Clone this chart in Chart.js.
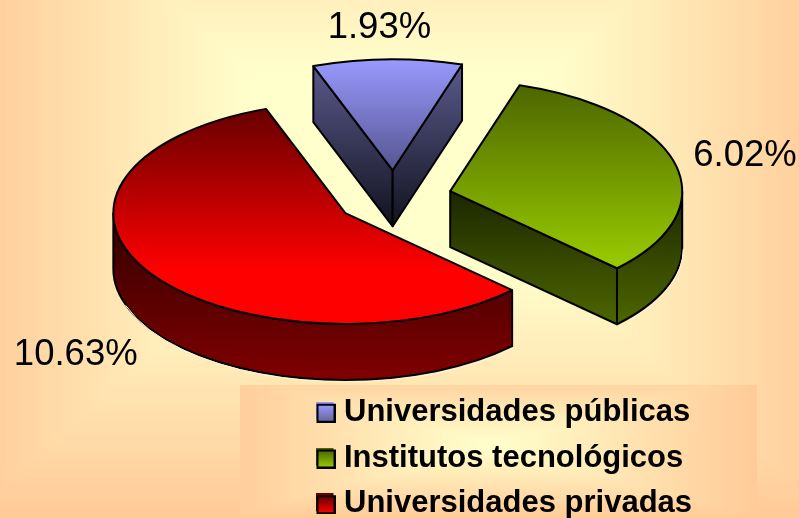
<!DOCTYPE html>
<html>
<head>
<meta charset="utf-8">
<script src="https://cdn.jsdelivr.net/npm/chart.js@4"></script>
<style>
html, body { margin: 0; padding: 0; background: #ffcc99; overflow: hidden; }
canvas { display: block; }
</style>
</head>
<body>
<canvas id="grafica" width="799" height="518"></canvas>
<script>
// datos
var categorias = ["Universidades públicas", "Institutos tecnológicos", "Universidades privadas"];
var valores = [1.93, 6.02, 10.63];

// colores de cada porcion: tapa arriba, tapa abajo, pared arriba, pared abajo
var tapaArriba = ["#9999ff", "#4d6600", "#660000"];
var tapaAbajo = ["#555590", "#99cc00", "#ff0000"];
var paredArriba = ["#5c5c90", "#1c2600", "#300000"];
var paredAbajo = ["#12121f", "#4d6600", "#800000"];

var inclinacion = 0.478; // aplasta el circulo en y
var grosor = 56; // alto de las paredes
var separacion = 58; // cuanto se aleja cada porcion del centro
// corrimiento de cada etiqueta desde el borde de su porcion
var corrimientoEtiqueta = [[-8, -31], [70, -8], [-75, 81]];

// degradado rectangular: rectangulos anidados de naranja a amarillo claro
function fondoRect(ctx, x, y, w, h, cx, cy, rx, ry, px, py) {
    ctx.save();
    ctx.beginPath();
    ctx.rect(x, y, w, h);
    ctx.clip();
    var pasos = 80;
    for (var i = 0; i <= pasos; i++) {
        var t = i / pasos;
        var hw = rx + (px - rx) * t;
        var hh = ry + (py - ry) * t;
        var b = Math.round(153 + 51 * t);
        var g = Math.round(204 + 51 * t);
        ctx.fillStyle = "rgb(255," + g + "," + b + ")";
        if (i == 0) ctx.fillRect(x, y, w, h);
        else ctx.fillRect(cx - hw, cy - hh, hw * 2, hh * 2);
    }
    ctx.restore();
}

function degradado(ctx, y0, y1, c0, c1) {
    var g = ctx.createLinearGradient(0, y0, 0, y1);
    g.addColorStop(0, c0);
    g.addColorStop(1, c1);
    return g;
}

// cuadrito de la leyenda como imagen para usarlo de pointStyle
function cuadrito(i) {
    var c = document.createElement("canvas");
    c.width = 20;
    c.height = 21;
    var x = c.getContext("2d");
    x.fillStyle = tapaArriba[i];
    x.fillRect(0, 0, 18, 18);
    x.fillStyle = degradado(x, 3, 20, tapaArriba[i], tapaAbajo[i] == "#555590" ? "#666699" : tapaAbajo[i]);
    x.fillRect(2, 3, 17, 17);
    x.strokeStyle = "#000";
    x.lineWidth = 2;
    x.strokeRect(2, 3, 17, 17);
    return c;
}

function borde(arc) {
    var medio = (arc.startAngle + arc.endAngle) / 2;
    return {
        ox: arc.x + Math.cos(medio) * separacion,
        oy: arc.y + Math.sin(medio) * separacion * inclinacion,
        r: arc.outerRadius,
        ry: arc.outerRadius * inclinacion,
        medio: medio
    };
}

function pintarCorte(ctx, b, angulo, relleno) {
    var x = b.ox + b.r * Math.cos(angulo);
    var y = b.oy + b.ry * Math.sin(angulo);
    ctx.beginPath();
    ctx.moveTo(b.ox, b.oy);
    ctx.lineTo(x, y);
    ctx.lineTo(x, y + grosor);
    ctx.lineTo(b.ox, b.oy + grosor);
    ctx.closePath();
    ctx.fillStyle = relleno;
    ctx.fill();
    ctx.stroke();
}

function pintarPorcion(ctx, arc, i) {
    var b = borde(arc);
    var ini = arc.startAngle, fin = arc.endAngle;
    ctx.save();
    ctx.lineJoin = "round";
    ctx.lineWidth = 2;
    ctx.strokeStyle = "#000";

    // alto total de la porcion para los degradados
    var senos = [0, Math.sin(ini), Math.sin(fin)];
    if (ini < Math.PI / 2 && fin > Math.PI / 2) senos.push(1);
    if (ini < -Math.PI / 2 && fin > -Math.PI / 2) senos.push(-1);
    var minSeno = Math.min.apply(null, senos);
    var maxSeno = Math.max.apply(null, senos);
    // si la porcion llega abajo del centro las paredes empiezan en el centro
    var inicioPared = maxSeno > 0 ? b.oy : b.oy + b.ry * minSeno;
    var pared = degradado(ctx, inicioPared, b.oy + b.ry * maxSeno + grosor, paredArriba[i], paredAbajo[i]);

    // caras del corte, solo las que miran al frente
    if (Math.cos(ini) < 0) pintarCorte(ctx, b, ini, pared);
    if (Math.cos(fin) > 0) pintarCorte(ctx, b, fin, pared);

    // pared curva de afuera
    var a = Math.max(ini, 0), c = Math.min(fin, Math.PI);
    if (a < c) {
        ctx.beginPath();
        ctx.ellipse(b.ox, b.oy, b.r, b.ry, 0, a, c);
        ctx.ellipse(b.ox, b.oy + grosor, b.r, b.ry, 0, c, a, true);
        ctx.closePath();
        ctx.fillStyle = pared;
        ctx.fill();
        ctx.stroke();
        // brillo claro bajo la pared
        ctx.beginPath();
        ctx.ellipse(b.ox + 1, b.oy + grosor + 2, b.r, b.ry, 0, a, c * 0.9);
        ctx.strokeStyle = "#fff4d8";
        ctx.lineWidth = 1;
        ctx.stroke();
        ctx.strokeStyle = "#000";
        ctx.lineWidth = 2;
    }

    // la tapa la dibuja el propio arco de Chart.js
    var dy0 = arc.y + arc.outerRadius * minSeno;
    var dy1 = arc.y + arc.outerRadius * maxSeno;
    var g = ctx.createLinearGradient(0, dy0, 0, dy1);
    g.addColorStop(0, tapaArriba[i]);
    if (i == 2) g.addColorStop(0.75, tapaAbajo[i]);
    g.addColorStop(1, tapaAbajo[i]);
    arc.options.backgroundColor = g;
    ctx.save();
    ctx.translate(b.ox, b.oy);
    ctx.scale(1, inclinacion);
    ctx.translate(-arc.x, -arc.y);
    arc.draw(ctx);
    ctx.restore();

    ctx.beginPath();
    ctx.moveTo(b.ox, b.oy);
    ctx.ellipse(b.ox, b.oy, b.r, b.ry, 0, ini, fin);
    ctx.closePath();
    ctx.stroke();
    ctx.restore();
}

var pastel3d = {
    id: "pastel3d",
    beforeDraw: function (chart) {
        var ctx = chart.ctx;
        fondoRect(ctx, 0, 0, 799, 518, 400, 170, 425, 340, 150, 98);
        fondoRect(ctx, 240, 385, 517, 133, 490, 445, 262, 72, 4, 2);
    },
    afterLayout: function (chart) {
        // la leyenda va sobre el recuadro de abajo
        var leyenda = chart.legend;
        var pad = leyenda.options.labels.padding;
        leyenda.left = 322.5 - pad;
        leyenda.right = 799;
        leyenda.top = 382;
        leyenda.bottom = 600;
    },
    beforeDatasetDraw: function (chart, args) {
        var arcos = args.meta.data;
        for (var i = 0; i < arcos.length; i++) {
            pintarPorcion(chart.ctx, arcos[i], i);
        }
        return false;
    },
    afterDraw: function (chart) {
        var ctx = chart.ctx;
        var arcos = chart.getDatasetMeta(0).data;
        ctx.save();
        ctx.fillStyle = "#000";
        ctx.font = "36.5px 'Liberation Sans'";
        ctx.textAlign = "center";
        ctx.textBaseline = "middle";
        for (var i = 0; i < arcos.length; i++) {
            var b = borde(arcos[i]);
            var x = b.ox + b.r * Math.cos(b.medio) + corrimientoEtiqueta[i][0];
            var y = b.oy + b.ry * Math.sin(b.medio) + corrimientoEtiqueta[i][1];
            ctx.fillText(valores[i].toFixed(2) + "%", x, y);
        }
        ctx.restore();
    }
};

var ctx = document.getElementById("grafica").getContext("2d");
var miGrafico = new Chart(ctx, {
    type: "pie",
    data: {
        labels: categorias,
        datasets: [{
            data: valores,
            backgroundColor: tapaAbajo,
            borderWidth: 0,
            clip: false
        }]
    },
    options: {
        responsive: false,
        animation: false,
        rotation: -20,
        radius: 232,
        layout: { padding: { left: 0, right: 11, top: 0, bottom: 122 } },
        plugins: {
            tooltip: { enabled: false },
            legend: {
                position: "chartArea",
                align: "start",
                labels: {
                    usePointStyle: true,
                    pointStyleWidth: 6,
                    padding: 14.75,
                    color: "#000",
                    font: { family: "'Liberation Sans'", size: 31, weight: "bold" },
                    generateLabels: function (chart) {
                        return categorias.map(function (nombre, i) {
                            return { text: nombre, pointStyle: cuadrito(i), index: i, hidden: false, fontColor: "#000" };
                        });
                    }
                }
            }
        }
    },
    plugins: [pastel3d]
});
</script>
</body>
</html>
